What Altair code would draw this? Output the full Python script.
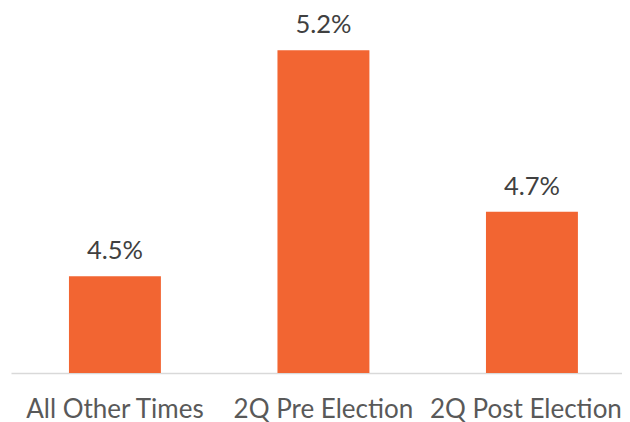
import altair as alt
import pandas as pd

categories = ["All Other Times", "2Q Pre Election", "2Q Post Election"]
values = [4.5, 5.2, 4.7]
labels = ["4.5%", "5.2%", "4.7%"]

df = pd.DataFrame({"cat": categories, "val": values, "lab": labels})

FONT = "Lato"
TXT = "#595959"
VAL_TXT = "#404040"
BASE = 4.2

x = alt.X(
    "cat:N",
    sort=categories,
    title=None,
    scale=alt.Scale(paddingInner=0.559, paddingOuter=0.2447, align=0.568),
    axis=alt.Axis(
        labelAngle=0,
        labelFont=FONT,
        labelFontSize=26,
        labelColor=TXT,
        labelBaseline="alphabetic",
        labelPadding=44,
        labelLimit=400,
        labelOffset={
            "condition": {"test": "datum.label == '2Q Post Election'", "value": -6},
            "value": 0,
        },
        ticks=False,
        tickSize=0,
        domainColor="#d9d9d9",
        domainWidth=1.5,
        grid=False,
        labelOverlap=False,
    ),
)
y = alt.Y(
    "val:Q",
    scale=alt.Scale(domain=[BASE, 5.3], zero=False, nice=False),
    axis=None,
)

bars = alt.Chart(df).mark_bar(color="#F26532").encode(x=x, y=y, y2=alt.datum(BASE))
text = alt.Chart(df).mark_text(
    font=FONT, fontSize=25.5, color=VAL_TXT, baseline="alphabetic", dy=-17
).encode(x=x, y=y, text="lab:N")

chart = (
    alt.layer(bars, text)
    .properties(
        width=611,
        height=355,
        autosize=alt.AutoSizeParams(type="none"),
        padding={"left": 3, "top": 10, "right": 0, "bottom": 55},
    )
    .configure_view(stroke=None)
)

chart.save("out.html", embed_options={"renderer": "svg", "actions": False})
